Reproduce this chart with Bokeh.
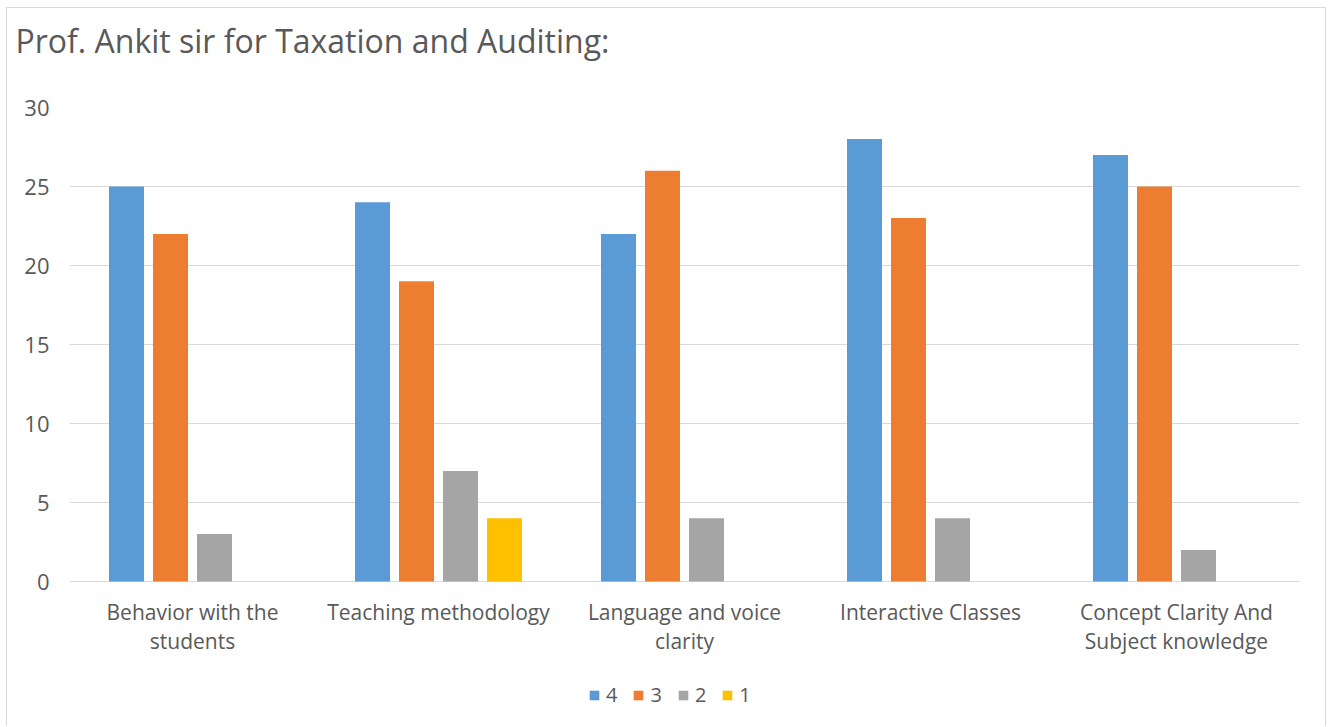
from bokeh.plotting import figure
from bokeh.models import FactorRange, Range1d, Legend, LegendItem, ColumnDataSource, FixedTicker, Title
from bokeh.core.properties import value
from bokeh.transform import dodge
from bokeh.embed import file_html
from bokeh.resources import INLINE

categories = ["Behavior with the students", "Teaching methodology",
              "Language and voice clarity", "Interactive Classes",
              "Concept Clarity And Subject knowledge"]
category_labels = ["Behavior with the\nstudents", "Teaching methodology",
                   "Language and voice\nclarity", "Interactive Classes",
                   "Concept Clarity And\nSubject knowledge"]
series_names = ["4", "3", "2", "1"]
s4 = [25, 24, 22, 28, 27]
s3 = [22, 19, 26, 23, 25]
s2 = [3, 7, 4, 4, 2]
s1 = [0, 4, 0, 0, 0]
y_ticks = [0, 5, 10, 15, 20, 25, 30]
title_text = "Prof. Ankit sir for Taxation and Auditing:"

colors = ["#5B9BD5", "#ED7D31", "#A5A5A5", "#FFC000"]
text_color = "#595959"
grid_color = "#D9D9D9"
FONT = "Open Sans"

# layout (pixels)
W, H = 1320, 719
FRAME_L, FRAME_R, FRAME_T, FRAME_B = 62, 28, 99, 0
PX_PER_UNIT = 79 / 5
Y_TOP = 30
frame_h = H - FRAME_T - FRAME_B
Y_BOTTOM = Y_TOP - frame_h / PX_PER_UNIT

source = ColumnDataSource(data=dict(cat=categories, s4=s4, s3=s3, s2=s2, s1=s1,
                                    label=category_labels))

p = figure(width=W, height=H, output_backend="svg", toolbar_location=None,
           x_range=FactorRange(factors=categories, range_padding=0),
           y_range=Range1d(Y_BOTTOM, Y_TOP), x_axis_location=None,
           min_border_left=FRAME_L, min_border_right=FRAME_R,
           min_border_top=FRAME_T, min_border_bottom=FRAME_B)

# spacer between frame and title, then the title itself (added outward)
p.add_layout(Title(text=" ", text_font_size="1px", standoff=43), "above")
p.add_layout(Title(text=title_text, text_font=FONT, text_font_size="32px",
                   text_font_style="normal", text_color=text_color,
                   align="left", offset=-54, standoff=0), "above")

bar_w = 35 / 246
step = 44 / 246
offsets = [-1.5 * step, -0.5 * step, 0.5 * step, 1.5 * step]
cols = ["s4", "s3", "s2", "s1"]
renderers = []
for col, off, c in zip(cols, offsets, colors):
    r = p.vbar(x=dodge("cat", off, range=p.x_range), top=col, bottom=0, width=bar_w,
               source=source, fill_color=c, line_color=None)
    renderers.append(r)

# category labels below the baseline
p.text(x="cat", y=-16.5 / PX_PER_UNIT, text="label", source=source,
       text_font=value(FONT), text_font_size="21px", text_color=text_color,
       text_align="center", text_baseline="top", text_line_height=1.03)

p.xgrid.grid_line_color = None
p.ygrid.grid_line_color = grid_color
p.ygrid.grid_line_width = 1
p.ygrid.ticker = FixedTicker(ticks=y_ticks)
p.outline_line_color = None

p.yaxis.ticker = FixedTicker(ticks=y_ticks)
p.yaxis.axis_line_color = None
p.yaxis.major_tick_line_color = None
p.yaxis.minor_tick_line_color = None
p.yaxis.major_label_text_font = FONT
p.yaxis.major_label_text_font_size = "22px"
p.yaxis.major_label_text_color = text_color
p.yaxis.major_label_standoff = 14

legend = Legend(items=[LegendItem(label=n, renderers=[r]) for n, r in zip(series_names, renderers)],
                orientation="horizontal", location=(519, 19),
                label_text_font=FONT, label_text_font_size="20px",
                label_text_color=text_color, glyph_width=12, glyph_height=12,
                label_standoff=6, label_width=0, spacing=15, padding=0, margin=0,
                border_line_color=None, background_fill_alpha=0)
p.add_layout(legend, "center")

p.margin = (7, 0, 0, 6)
p.styles = {"border": "1px solid #D9D9D9", "border-bottom-width": "0px"}

open("out.html", "w").write(file_html(p, INLINE))
